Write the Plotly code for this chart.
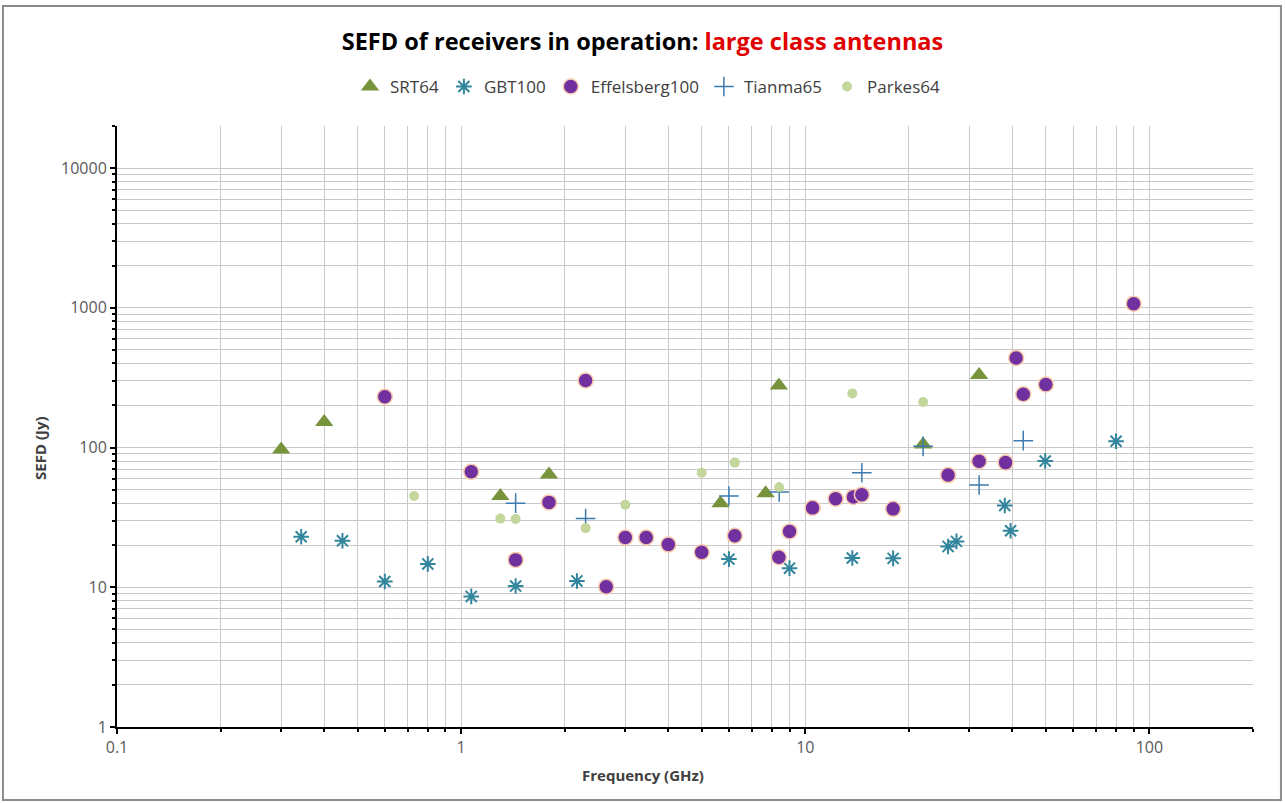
import plotly.graph_objects as go

# ---- data (frequency in GHz, SEFD in Jy) ----
srt_freq = [0.3, 0.4, 1.3, 1.8, 5.67, 7.67, 8.38, 22.0, 32.0]
srt_sefd = [97, 152, 45, 64, 40, 47, 278, 105, 330]

gbt_freq = [0.343, 0.452, 0.6, 0.8, 1.07, 1.44, 2.17, 6.0, 9.0, 13.7, 18.0, 26.0, 27.5, 38.0, 39.5, 49.8, 80.0]
gbt_sefd = [23, 21.5, 11, 14.7, 8.6, 10.2, 11.1, 15.9, 13.7, 16.2, 16.1, 19.6, 21.3, 38.5, 25.4, 80, 111]

eff_freq = [0.6, 1.07, 1.44, 1.8, 2.3, 2.64, 3.0, 3.45, 4.0, 5.0, 6.24, 8.38, 9.0, 10.5, 12.25,
            13.8, 14.6, 18.0, 26.0, 32.0, 38.2, 41.0, 43.0, 50.0, 90.0]
eff_sefd = [231, 67, 15.7, 40.5, 302, 10.1, 22.7, 22.7, 20.2, 17.8, 23.4, 16.4, 25.1, 37, 43,
            44.3, 46, 36.4, 63.5, 79.8, 78, 438, 241, 283, 1070]

tianma_freq = [1.44, 2.3, 6.0, 8.4, 14.6, 22.0, 32.0, 43.0]
tianma_sefd = [40, 31, 45, 48, 66, 102, 54, 112]

parkes_freq = [0.73, 1.3, 1.44, 2.3, 3.0, 5.0, 6.24, 8.4, 13.7, 22.0]
parkes_sefd = [45, 31, 30.8, 26.5, 39, 66, 78, 52, 244, 212]

x_tickvals = [0.1, 1, 10, 100]
x_ticktext = ["0.1", "1", "10", "100"]
y_tickvals = [1, 10, 100, 1000, 10000]
y_ticktext = ["1", "10", "100", "1000", "10000"]

FONT = "Open Sans"

fig = go.Figure()
fig.add_trace(go.Scatter(x=srt_freq, y=srt_sefd, mode="markers", name="SRT64",
                         marker=dict(symbol="triangle-up", size=16, color="#77933C")))
fig.add_trace(go.Scatter(x=gbt_freq, y=gbt_sefd, mode="markers", name="GBT100",
                         marker=dict(symbol="asterisk-open", size=13, color="#31859C",
                                     line=dict(color="#31859C", width=2))))
fig.add_trace(go.Scatter(x=eff_freq, y=eff_sefd, mode="markers", name="Effelsberg100",
                         marker=dict(symbol="circle", size=15, color="#7030A0",
                                     line=dict(color="#F8CBAD", width=1.5))))
fig.add_trace(go.Scatter(x=tianma_freq, y=tianma_sefd, mode="markers", name="Tianma65",
                         marker=dict(symbol="cross-thin-open", size=14, color="#3B7BB0",
                                     line=dict(color="#3B7BB0", width=1.5))))
fig.add_trace(go.Scatter(x=parkes_freq, y=parkes_sefd, mode="markers", name="Parkes64",
                         marker=dict(symbol="circle", size=10, color="#C3D69B")))

grid_col = "#C8C8C8"
fig.update_xaxes(type="log", range=[-1, 2.30103], tickvals=x_tickvals, ticktext=x_ticktext,
                 showgrid=True, gridcolor=grid_col, gridwidth=1,
                 showline=True, linecolor="black", linewidth=2,
                 ticks="outside", ticklen=5, tickwidth=2, tickcolor="black",
                 minor=dict(dtick="D1", showgrid=True, gridcolor=grid_col, gridwidth=1,
                            ticks="outside", ticklen=3, tickwidth=1.5, tickcolor="black"),
                 tickfont=dict(family=FONT, size=16, color="#595959"),
                 zeroline=False)
fig.update_yaxes(type="log", range=[0, 4.30103], tickvals=y_tickvals, ticktext=y_ticktext,
                 showgrid=True, gridcolor=grid_col, gridwidth=1,
                 showline=True, linecolor="black", linewidth=2,
                 ticks="outside", ticklen=5, tickwidth=2, tickcolor="black",
                 minor=dict(dtick="D1", showgrid=True, gridcolor=grid_col, gridwidth=1,
                            ticks="outside", ticklen=3, tickwidth=1.5, tickcolor="black"),
                 tickfont=dict(family=FONT, size=16, color="#595959"),
                 zeroline=False)

PW, PH = 1136.0, 601.0  # plot area size in px

fig.update_layout(
    width=1285, height=803, autosize=False,
    margin=dict(l=117, r=32, t=126, b=76),
    paper_bgcolor="white", plot_bgcolor="white",
    title=dict(text="<b>SEFD of receivers in operation: <span style='color:#E00000'>large class antennas</span></b>",
               x=0.5, xanchor="center", y=1 - 42 / 803, yanchor="middle",
               font=dict(family=FONT, size=23.5, color="black")),
    legend=dict(orientation="h", x=(350 - 117) / PW, xanchor="left", y=1.065, yanchor="middle",
                font=dict(family=FONT, size=17, color="#404040"), itemwidth=30,
                bgcolor="rgba(0,0,0,0)"),
    showlegend=True,
    annotations=[
        dict(text="<b>Frequency (GHz)</b>", xref="paper", yref="paper",
             x=(643 - 117) / PW, y=(727 - 775) / PH, xanchor="center", yanchor="middle",
             showarrow=False, font=dict(family=FONT, size=15, color="#404040")),
        dict(text="<b>SEFD (Jy)</b>", xref="paper", yref="paper", textangle=-90,
             x=(40 - 117) / PW, y=(727 - 448) / PH, xanchor="center", yanchor="middle",
             showarrow=False, font=dict(family=FONT, size=15, color="#404040")),
    ],
    shapes=[dict(type="rect", xref="paper", yref="paper", x0=-0.1004, x1=1.0246, y0=-0.1215, y1=1.1997,
                 line=dict(color="#8C8C8C", width=2), fillcolor="rgba(0,0,0,0)", layer="below")],
)

fig.write_html("out.html", config={"displayModeBar": False},
               post_script="document.body.style.margin='0';document.body.style.overflow='hidden';")
